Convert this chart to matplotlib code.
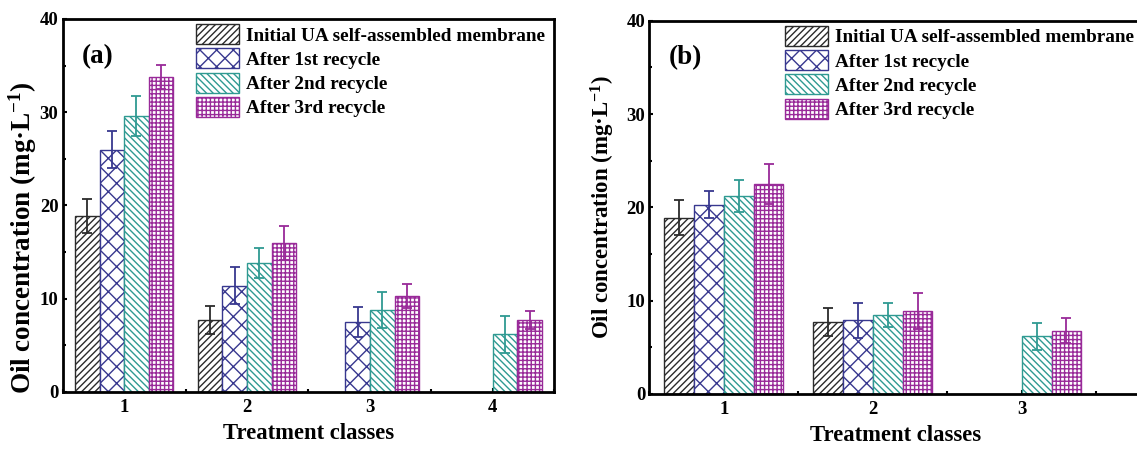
import numpy as np
import matplotlib
matplotlib.use('Agg')
import matplotlib.pyplot as plt
from matplotlib.ticker import MultipleLocator

# series styling (Origin-like hatched bars)
INK = '#2b2b2b'
NAVY = '#38388f'
TEAL = '#2f9a92'
PLUM = '#992a99'

plt.rcParams.update({
    'font.family': 'Liberation Serif',
    'font.weight': 'bold',
    'mathtext.fontset': 'custom',
    'mathtext.rm': 'Liberation Serif:bold',
    'mathtext.bf': 'Liberation Serif:bold',
    'mathtext.default': 'bf',
    'hatch.linewidth': 1.0,
    'axes.linewidth': 2.0,
})

series = ['Initial UA self-assembled membrane', 'After 1st recycle',
          'After 2nd recycle', 'After 3rd recycle']
colors = [INK, NAVY, TEAL, PLUM]
hatches = ['/////', 'xx', '\\\\\\\\\\', '++++']

# ---- panel (a)
classes_a = [1, 2, 3, 4]
initial_a = [18.9, 7.7, np.nan, np.nan]
rec1_a = [26.0, 11.4, 7.5, np.nan]
rec2_a = [29.6, 13.8, 8.8, 6.2]
rec3_a = [33.8, 16.0, 10.3, 7.7]
initial_a_err = [1.8, 1.5, np.nan, np.nan]
rec1_a_err = [2.0, 1.95, 1.65, np.nan]
rec2_a_err = [2.15, 1.6, 1.9, 2.0]
rec3_a_err = [1.3, 1.8, 1.3, 0.95]

# ---- panel (b)
classes_b = [1, 2, 3]
initial_b = [18.9, 7.7, np.nan]
rec1_b = [20.3, 7.9, np.nan]
rec2_b = [21.2, 8.5, 6.2]
rec3_b = [22.5, 8.9, 6.8]
initial_b_err = [1.85, 1.5, np.nan]
rec1_b_err = [1.4, 1.85, np.nan]
rec2_b_err = [1.7, 1.3, 1.45]
rec3_b_err = [2.1, 1.95, 1.3]


def panel(ax, classes, vals, errs, xmax, tag, leg_x, ylab_size, ylab_pos):
    width = 0.2
    x = np.asarray(classes, dtype=float)
    for i, (v, e) in enumerate(zip(vals, errs)):
        pos = x + (i - 1.5) * width
        ax.bar(pos, v, width=width, facecolor='white', edgecolor=colors[i],
               hatch=hatches[i], linewidth=1.0, label=series[i], zorder=2)
        ax.errorbar(pos, v, yerr=e, fmt='none', ecolor=colors[i],
                    elinewidth=1.3, capsize=3.5, capthick=1.3, zorder=3)
    ax.set_xlim(0.5, xmax)
    ax.set_ylim(0, 40)
    ax.set_xticks(classes)
    ax.xaxis.set_minor_locator(MultipleLocator(0.5))
    ax.yaxis.set_major_locator(MultipleLocator(10))
    ax.yaxis.set_minor_locator(MultipleLocator(5))
    ax.tick_params(which='both', direction='in', labelsize=13.5, width=1.5)
    ax.tick_params(which='major', length=3)
    ax.tick_params(which='minor', length=2)
    ax.tick_params(axis='y', pad=3)
    ax.tick_params(axis='x', pad=5)
    for lbl in ax.get_xticklabels() + ax.get_yticklabels():
        lbl.set_fontweight('bold')
    ax.set_xlabel('Treatment classes', fontsize=16.3, fontweight='bold')
    ax.set_ylabel('Oil concentration (mg·L$^{-1}$)', fontsize=ylab_size,
                  fontweight='bold')
    ax.xaxis.set_label_coords(0.5, -0.083)
    ax.yaxis.set_label_coords(*ylab_pos)
    ax.text(0.039, 0.90, tag, transform=ax.transAxes, fontsize=19.5,
            fontweight='bold', ha='left', va='center')
    ax.legend(loc='upper left', bbox_to_anchor=(leg_x, 0.986), frameon=False,
              handlelength=2.25, handleheight=1.2,
              handletextpad=0.35, labelspacing=0.2, borderpad=0,
              borderaxespad=0, prop={'weight': 'bold', 'size': 13.9})


fig = plt.figure(figsize=(11.37, 4.49), dpi=100)
ax_a = fig.add_axes([0.0551, 0.127, 0.4324, 0.8307])
ax_b = fig.add_axes([0.5711, 0.1225, 0.4324, 0.8314])

panel(ax_a, classes_a, [initial_a, rec1_a, rec2_a, rec3_a],
      [initial_a_err, rec1_a_err, rec2_a_err, rec3_a_err], 4.5, '(a)', 0.271,
      19.5, (-0.048, 0.415))
panel(ax_b, classes_b, [initial_b, rec1_b, rec2_b, rec3_b],
      [initial_b_err, rec1_b_err, rec2_b_err, rec3_b_err], 3.8, '(b)', 0.276,
      16.5, (-0.066, 0.5))

fig.savefig('out.png', dpi=100)
